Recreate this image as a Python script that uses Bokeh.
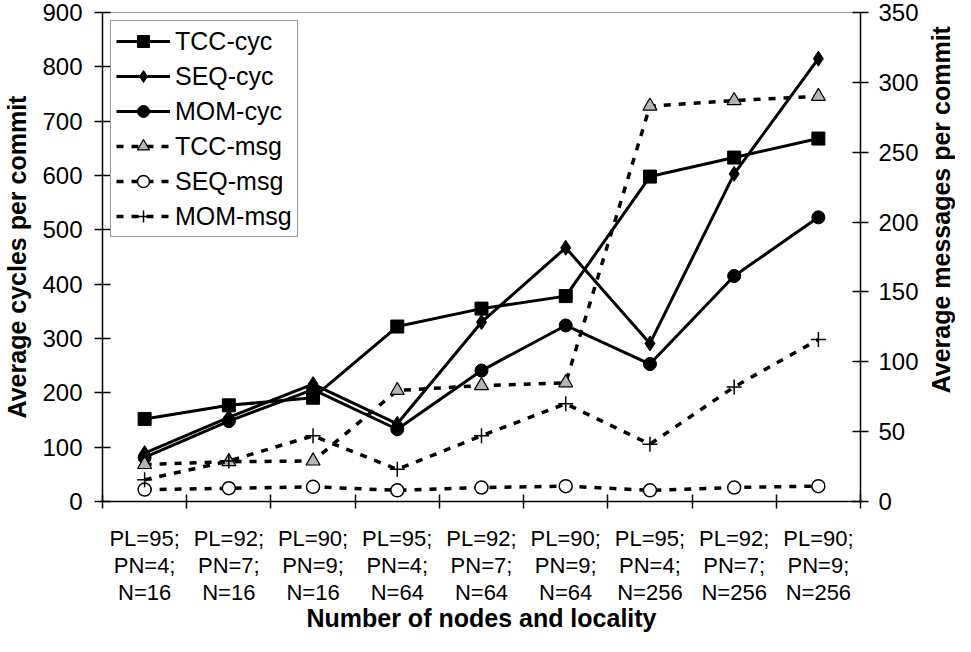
import math
from bokeh.plotting import figure
from bokeh.layouts import row
from bokeh.models import (Range1d, LinearAxis, FixedTicker, Legend, LegendItem, Label)
from bokeh.embed import file_html
from bokeh.resources import INLINE

categories = ["PL=95;\nPN=4;\nN=16", "PL=92;\nPN=7;\nN=16", "PL=90;\nPN=9;\nN=16",
              "PL=95;\nPN=4;\nN=64", "PL=92;\nPN=7;\nN=64", "PL=90;\nPN=9;\nN=64",
              "PL=95;\nPN=4;\nN=256", "PL=92;\nPN=7;\nN=256", "PL=90;\nPN=9;\nN=256"]
tcc_cyc = [152, 177, 191, 322, 355, 378, 598, 633, 668]
seq_cyc = [89, 155, 216, 143, 330, 467, 291, 603, 815]
mom_cyc = [81, 148, 206, 133, 241, 324, 253, 415, 523]
tcc_msg = [26.5, 28.5, 29, 79.5, 83, 85, 283, 287, 290]
seq_msg = [8.5, 9.5, 10.5, 8, 10, 11, 8, 10, 11]
mom_msg = [15.5, 29, 47, 23, 47, 70, 41, 82, 116]
left_ticks = [0, 100, 200, 300, 400, 500, 600, 700, 800, 900]
right_ticks = [0, 50, 100, 150, 200, 250, 300, 350]
right_title = "Average messages per commit"

FONT = "Liberation Sans"
xs = list(range(len(categories)))

H = 636
p = figure(width=925, height=H, output_backend="svg", toolbar_location=None,
           x_range=Range1d(-0.5, len(categories) - 0.5), y_range=Range1d(0, 900),
           min_border_left=98, min_border_right=65, min_border_top=12, min_border_bottom=135)
p.extra_y_ranges = {"msg": Range1d(0, 350)}
p.grid.visible = False
p.outline_line_color = "#a0a0a0"
p.outline_line_width = 1
p.background_fill_color = "white"
p.border_fill_color = "white"

def style_axis(ax, tick_size="24px"):
    ax.axis_line_color = "black"
    ax.axis_line_width = 1.5
    ax.major_tick_line_color = "black"
    ax.major_tick_line_width = 1.5
    ax.major_label_text_font = FONT
    ax.major_label_text_font_size = tick_size
    ax.major_label_text_color = "black"
    ax.axis_label_text_font = FONT
    ax.axis_label_text_font_size = "25px"
    ax.axis_label_text_font_style = "bold"
    ax.axis_label_text_color = "black"

# x axis
xa = p.xaxis[0]
style_axis(xa, "22px")
xa.ticker = FixedTicker(ticks=xs, minor_ticks=[i - 0.5 for i in range(len(categories) + 1)])
xa.major_label_overrides = {i: c for i, c in enumerate(categories)}
xa.major_label_text_line_height = 1.08
xa.major_tick_in = 0
xa.major_tick_out = 0
xa.minor_tick_in = 7
xa.minor_tick_out = 7
xa.minor_tick_line_color = "black"
xa.minor_tick_line_width = 1.5
xa.major_label_standoff = 17
xa.axis_label = "Number of nodes and locality"
xa.axis_label_standoff = -4

# left y axis
ya = p.yaxis[0]
style_axis(ya)
ya.ticker = FixedTicker(ticks=left_ticks)
ya.minor_tick_line_color = None
ya.major_tick_in = 8
ya.major_tick_out = 8
ya.major_label_standoff = 12
ya.axis_label = "Average cycles per commit"
ya.axis_label_standoff = 8

# right y axis
ra = LinearAxis(y_range_name="msg", ticker=FixedTicker(ticks=right_ticks))
style_axis(ra)
ra.minor_tick_line_color = None
ra.major_tick_in = 8
ra.major_tick_out = 8
ra.major_label_standoff = 10
p.add_layout(ra, "right")

DASH = "7 8"

l1 = p.line(xs, tcc_cyc, line_color="black", line_width=3)
m1 = p.scatter(xs, tcc_cyc, marker="square", size=13, fill_color="black", line_color="black")
l2 = p.line(xs, seq_cyc, line_color="black", line_width=3)
m2 = p.scatter(xs, seq_cyc, marker="diamond", size=15, fill_color="black", line_color="black")
l3 = p.line(xs, mom_cyc, line_color="black", line_width=3)
m3 = p.scatter(xs, mom_cyc, marker="circle", size=13, fill_color="black", line_color="black")
l4 = p.line(xs, tcc_msg, line_color="black", line_width=3.5, line_dash=DASH, y_range_name="msg")
m4 = p.scatter(xs, tcc_msg, marker="triangle", size=14, fill_color="#b4b4b4", line_color="black",
               line_width=1.2, y_range_name="msg")
l5 = p.line(xs, seq_msg, line_color="black", line_width=3.5, line_dash=DASH, y_range_name="msg")
m5 = p.scatter(xs, seq_msg, marker="circle", size=13, fill_color="white", line_color="black",
               line_width=1.5, y_range_name="msg")
l6 = p.line(xs, mom_msg, line_color="black", line_width=3.5, line_dash=DASH, y_range_name="msg")
m6 = p.scatter(xs, mom_msg, marker="cross", size=15, line_color="black", line_width=1.5,
               y_range_name="msg")

legend = Legend(items=[
    LegendItem(label="TCC-cyc", renderers=[l1, m1]),
    LegendItem(label="SEQ-cyc", renderers=[l2, m2]),
    LegendItem(label="MOM-cyc", renderers=[l3, m3]),
    LegendItem(label="TCC-msg", renderers=[l4, m4]),
    LegendItem(label="SEQ-msg", renderers=[l5, m5]),
    LegendItem(label="MOM-msg", renderers=[l6, m6]),
], location="top_left")
legend.margin = 8
legend.padding = 5
legend.spacing = 5
legend.label_text_font = FONT
legend.label_text_font_size = "25px"
legend.label_text_color = "black"
legend.label_height = 30
legend.glyph_height = 30
legend.glyph_width = 54
legend.label_standoff = 5
legend.border_line_color = "#333333"
legend.border_line_width = 1
legend.background_fill_color = "white"
legend.background_fill_alpha = 1
p.add_layout(legend)

# narrow companion figure holding the right-hand axis title (reads bottom-to-top)
p2 = figure(width=30, height=H, output_backend="svg", toolbar_location=None,
            x_range=Range1d(0, 1), y_range=Range1d(0, H),
            x_axis_location=None, y_axis_location=None,
            min_border_left=0, min_border_right=0, min_border_top=0, min_border_bottom=0)
p2.grid.visible = False
p2.outline_line_color = None
p2.background_fill_color = "white"
p2.border_fill_color = "white"
p2.add_layout(Label(x=0.52, y=H - 256.5, x_units="data", y_units="data", text=right_title,
                    angle=math.pi / 2, text_align="center", text_baseline="middle",
                    text_font=FONT, text_font_size="25px", text_font_style="bold",
                    text_color="black"))

layout = row(p, p2, spacing=0)
open("out.html", "w").write(file_html(layout, INLINE))
